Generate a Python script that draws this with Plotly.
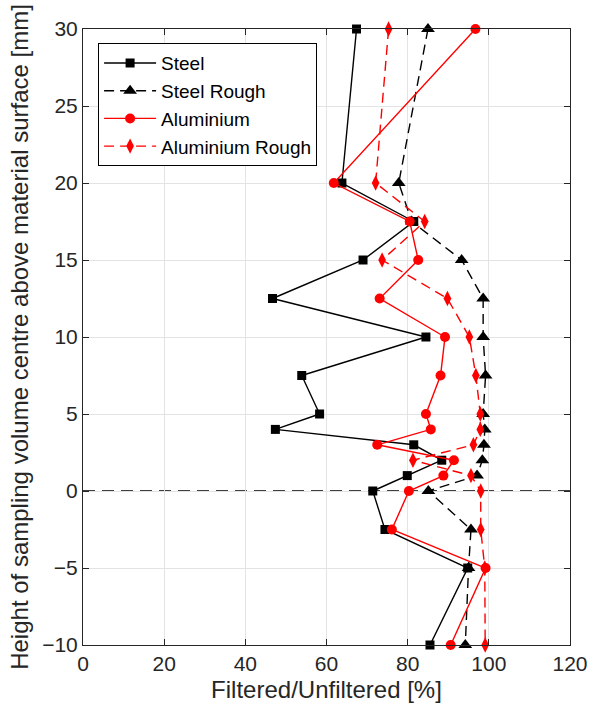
import plotly.graph_objects as go

# Sampling heights above the material surface [mm]
heights = [30, 20, 17.5, 15, 12.5, 10, 7.5, 5, 4, 3, 2, 1, 0, -2.5, -5, -10]

# Filtered/Unfiltered ratio [%] per material
steel = [67.4, 63.8, 81.5, 69.0, 46.7, 84.5, 53.9, 58.3, 47.4, 81.5, 88.4, 79.9, 71.4, 74.4, 94.8, 85.5]
steel_rough = [85.0, 77.8, 81.0, 93.3, 98.6, 98.6, 99.2, 98.6, 99.0, 98.8, 98.4, 97.1, 85.1, 95.6, 95.0, 94.2]
aluminium = [96.7, 61.8, 80.5, 82.6, 73.1, 89.2, 88.1, 84.5, 85.7, 72.5, 91.4, 88.8, 80.3, 76.1, 99.2, 90.6]
aluminium_rough = [75.3, 72.1, 84.2, 73.7, 89.8, 95.2, 96.8, 97.9, 97.9, 96.2, 81.3, 95.6, 98.0, 98.0, 99.0, 99.1]

surface_height = 0

x_ticks = [0, 20, 40, 60, 80, 100, 120]
y_ticks = [-10, -5, 0, 5, 10, 15, 20, 25, 30]

FONT = "Liberation Sans, Arial, Helvetica, sans-serif"
AXIS_COLOR = "#262626"
GRID_COLOR = "#e3e3e3"
DASH = "10px,6px"

series = [
    ("Steel", steel, "black", "solid", "square", 9),
    ("Steel Rough", steel_rough, "black", DASH, "triangle-up", 12),
    ("Aluminium", aluminium, "red", "solid", "circle", 10),
    ("Aluminium Rough", aluminium_rough, "red", DASH, "diamond-tall", 11),
]

fig = go.Figure()

for name, values, color, dash, symbol, size in series:
    fig.add_trace(go.Scatter(
        x=values,
        y=heights,
        mode="lines+markers",
        name=name,
        cliponaxis=False,
        line=dict(color=color, width=1.4, dash=dash),
        marker=dict(symbol=symbol, size=size, color=color, line=dict(width=0)),
    ))

# Material surface reference line
fig.add_hline(y=surface_height, line=dict(color="black", width=1.6, dash="12px,7px"), layer="below")

axis_common = dict(
    showline=True,
    linecolor=AXIS_COLOR,
    linewidth=1,
    mirror="ticks",
    ticks="inside",
    ticklen=6,
    tickcolor=AXIS_COLOR,
    showgrid=True,
    gridcolor=GRID_COLOR,
    gridwidth=1,
    zeroline=False,
    tickfont=dict(family=FONT, size=21, color=AXIS_COLOR),
)

fig.update_layout(
    width=600,
    height=718,
    margin=dict(l=83, r=20, t=29, b=73),
    paper_bgcolor="white",
    plot_bgcolor="white",
    font=dict(family=FONT, color=AXIS_COLOR),
    xaxis=dict(
        range=[0, 120],
        tickvals=x_ticks,
        title=dict(text="Filtered/Unfiltered [%]", font=dict(family=FONT, size=24, color=AXIS_COLOR), standoff=6),
        **axis_common,
    ),
    yaxis=dict(
        range=[-10, 30],
        tickvals=y_ticks,
        title=dict(text="Height of sampling volume centre above material surface [mm]",
                   font=dict(family=FONT, size=24, color=AXIS_COLOR), standoff=6),
        **axis_common,
    ),
    legend=dict(
        x=0.031,
        y=0.977,
        xanchor="left",
        yanchor="top",
        bgcolor="white",
        bordercolor="black",
        borderwidth=1,
        itemwidth=52,
        font=dict(family=FONT, size=19, color="black"),
        tracegroupgap=0,
    ),
    showlegend=True,
)

fig.write_html("out.html")
